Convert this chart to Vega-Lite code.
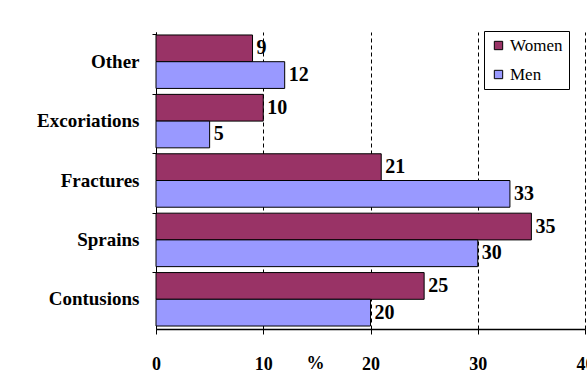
{
  "$schema": "https://vega.github.io/schema/vega-lite/v6.json",
  "width": 429,
  "height": 297,
  "autosize": {"type": "none"},
  "padding": {"left": 156, "top": 32, "right": 2, "bottom": 52},
  "background": "white",
  "config": {
    "view": {"stroke": null},
    "font": "Liberation Serif"
  },
  "data": {
    "values": [
      {"injury": "Other", "sex": "Women", "pct": 9},
      {"injury": "Other", "sex": "Men", "pct": 12},
      {"injury": "Excoriations", "sex": "Women", "pct": 10},
      {"injury": "Excoriations", "sex": "Men", "pct": 5},
      {"injury": "Fractures", "sex": "Women", "pct": 21},
      {"injury": "Fractures", "sex": "Men", "pct": 33},
      {"injury": "Sprains", "sex": "Women", "pct": 35},
      {"injury": "Sprains", "sex": "Men", "pct": 30},
      {"injury": "Contusions", "sex": "Women", "pct": 25},
      {"injury": "Contusions", "sex": "Men", "pct": 20}
    ]
  },
  "encoding": {
    "y": {
      "field": "injury",
      "type": "nominal",
      "sort": ["Other", "Excoriations", "Fractures", "Sprains", "Contusions"],
      "scale": {"paddingInner": 0.1, "paddingOuter": 0.05},
      "axis": {
        "title": null,
        "bandPosition": 0,
        "domainColor": "black",
        "tickColor": "black",
        "tickSize": 4,
        "labelPadding": 13,
        "labelFont": "Liberation Serif",
        "labelFontWeight": "bold",
        "labelFontSize": 19,
        "labelColor": "black"
      }
    },
    "yOffset": {"field": "sex", "type": "nominal", "sort": ["Women", "Men"]},
    "x": {
      "field": "pct",
      "type": "quantitative",
      "scale": {"domain": [0, 40], "nice": false},
      "axis": {
        "values": [0, 10, 20, 30, 40],
        "title": "%",
        "titleX": 159,
        "titleY": 34,
        "titleBaseline": "middle",
        "titleFont": "Liberation Serif",
        "titleFontWeight": "bold",
        "titleFontSize": 18,
        "titleColor": "black",
        "domainColor": "black",
        "domainWidth": 1.5,
        "tickColor": "black",
        "tickSize": 5,
        "labelPadding": 21,
        "labelFont": "Liberation Serif",
        "labelFontWeight": "bold",
        "labelFontSize": 18,
        "labelColor": "black",
        "labelFlush": false,
        "grid": true,
        "gridColor": "black",
        "gridDash": [4, 3],
        "gridOpacity": 1
      }
    }
  },
  "layer": [
    {
      "mark": {"type": "bar", "stroke": "black", "strokeWidth": 1},
      "encoding": {
        "color": {
          "field": "sex",
          "type": "nominal",
          "scale": {"domain": ["Women", "Men"], "range": ["#993366", "#9999FF"]},
          "legend": {
            "title": null,
            "orient": "none",
            "legendX": 328,
            "legendY": -1,
            "strokeColor": "black",
            "fillColor": "white",
            "padding": 6,
            "symbolType": "square",
            "symbolSize": 70,
            "symbolStrokeColor": "black",
            "symbolStrokeWidth": 1,
            "labelFont": "Liberation Serif",
            "labelFontSize": 17,
            "labelColor": "black",
            "rowPadding": 11,
            "labelOffset": 3
          }
        }
      }
    },
    {
      "mark": {
        "type": "text",
        "align": "left",
        "baseline": "middle",
        "dx": 4,
        "font": "Liberation Serif",
        "fontWeight": "bold",
        "fontSize": 20,
        "color": "black"
      },
      "encoding": {"text": {"field": "pct", "type": "quantitative"}}
    }
  ]
}
